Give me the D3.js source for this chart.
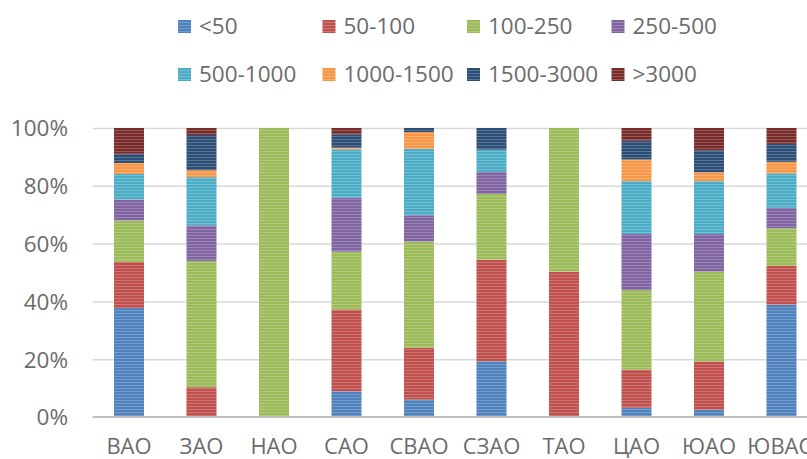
<!DOCTYPE html>
<html>
<head>
<meta charset="utf-8">
<script src="https://cdn.jsdelivr.net/npm/d3@7"></script>
<style>
  html, body { margin: 0; padding: 0; background: #fff; }
  svg { display: block; }
  text { font-family: "Open Sans", "Noto Sans", sans-serif; fill: #6b6b6b; }
</style>
</head>
<body>
<svg id="chart" width="807" height="459"></svg>
<script>
// Districts (okrugs) along the x axis
const categories = ["ВАО", "ЗАО", "НАО", "САО", "СВАО", "СЗАО", "ТАО", "ЦАО", "ЮАО", "ЮВАО"];

// Size groups, bottom to top in each stack
const seriesNames = ["<50", "50-100", "100-250", "250-500", "500-1000", "1000-1500", "1500-3000", ">3000"];

// Share of each size group per district, %
const lt50      = [37.7,  0.0,   0.0,  8.9,  6.0, 19.3,  0.0,  3.2,  2.5, 38.9];
const s50_100   = [16.0, 10.3,   0.0, 28.3, 18.0, 35.1, 50.3, 13.2, 16.7, 13.4];
const s100_250  = [14.3, 43.7, 100.0, 20.0, 36.7, 22.8, 49.7, 27.5, 31.1, 13.0];
const s250_500  = [ 7.3, 12.3,   0.0, 18.7,  9.1,  7.6,  0.0, 19.4, 13.0,  7.1];
const s500_1000 = [ 8.8, 16.7,   0.0, 16.7, 23.0,  7.7,  0.0, 18.3, 18.3, 11.9];
const s1000_1500= [ 3.8,  2.4,   0.0,  0.6,  5.8,  0.0,  0.0,  7.5,  3.1,  4.0];
const s1500_3000= [ 3.2, 12.2,   0.0,  4.6,  1.4,  7.5,  0.0,  6.5,  7.6,  6.2];
const gt3000    = [ 8.9,  2.4,   0.0,  2.2,  0.0,  0.0,  0.0,  4.4,  7.7,  5.5];

const yTicks = [0, 20, 40, 60, 80, 100];

const colors = ["#4f81bd", "#c0504d", "#9bbb59", "#8064a2", "#4bacc6", "#f79646", "#2c4d75", "#772c2a"];

const seriesValues = [lt50, s50_100, s100_250, s250_500, s500_1000, s1000_1500, s1500_3000, gt3000];

// Row-per-district table for d3.stack
const table = categories.map((c, i) => {
  const row = { cat: c };
  seriesNames.forEach((s, k) => { row[s] = seriesValues[k][i]; });
  return row;
});

const svg = d3.select("#chart");

const x = d3.scaleBand()
  .domain(categories)
  .range([92.75, 817.75])
  .paddingInner(0.586)
  .paddingOuter(0.293);

const y = d3.scaleLinear().domain([0, 100]).range([417, 128]);

// Horizontal stripe texture used inside bars and legend keys
const defs = svg.append("defs");
colors.forEach((col, k) => {
  const p = defs.append("pattern")
    .attr("id", "stripe" + k)
    .attr("patternUnits", "userSpaceOnUse")
    .attr("width", 8).attr("height", 3);
  p.append("rect").attr("width", 8).attr("height", 3).attr("fill", col);
  p.append("rect").attr("y", 1).attr("width", 8).attr("height", 1)
    .attr("fill", "#fff").attr("opacity", 0.22);
});

// Gridlines
svg.append("g")
  .attr("transform", "translate(92.75,0)")
  .call(d3.axisLeft(y).tickValues(yTicks.slice(1)).tickSize(-730).tickFormat(""))
  .call(g => g.select(".domain").remove())
  .call(g => g.selectAll("line").attr("stroke", "#d9d9d9").attr("stroke-width", 1.5));

// Y labels
svg.append("g")
  .attr("transform", "translate(68,0)")
  .call(d3.axisLeft(y).tickValues(yTicks).tickSize(0).tickPadding(0).tickFormat(d => d + "%"))
  .call(g => g.select(".domain").remove())
  .call(g => g.selectAll("text").style("font-size", "22.5px").attr("fill", "#6b6b6b").attr("dy", "0.35em"));

// Stacked bars
const stacked = d3.stack().keys(seriesNames)(table);
svg.append("g").selectAll("g")
  .data(stacked)
  .join("g")
  .attr("fill", (d, k) => "url(#stripe" + k + ")")
  .selectAll("rect")
  .data(d => d)
  .join("rect")
  .attr("x", d => x(d.data.cat))
  .attr("width", x.bandwidth())
  .attr("y", d => y(d[1]))
  .attr("height", d => Math.max(0, y(d[0]) - y(d[1])));

// Category axis line and labels
svg.append("g")
  .attr("transform", "translate(0,417)")
  .call(d3.axisBottom(x).tickSize(0).tickPadding(0))
  .call(g => g.select(".domain").attr("stroke", "#bfbfbf").attr("stroke-width", 2)
    .attr("d", "M92.75,0H817.75"))
  .call(g => g.selectAll("text").style("font-size", "22px").attr("fill", "#6b6b6b")
    .attr("y", 37).attr("dy", 0));

// Legend: four columns, two rows
const legend = svg.append("g");
seriesNames.forEach((s, k) => {
  const col = k % 4, row = Math.floor(k / 4);
  const gx = 178 + col * 144.5, gy = row === 0 ? 20 : 68;
  legend.append("rect")
    .attr("x", gx).attr("y", gy).attr("width", 13).attr("height", 13)
    .attr("fill", "url(#stripe" + k + ")");
  legend.append("text")
    .attr("x", gx + 21).attr("y", gy + 13.5)
    .style("font-size", "22.5px")
    .text(s);
});
</script>
</body>
</html>
